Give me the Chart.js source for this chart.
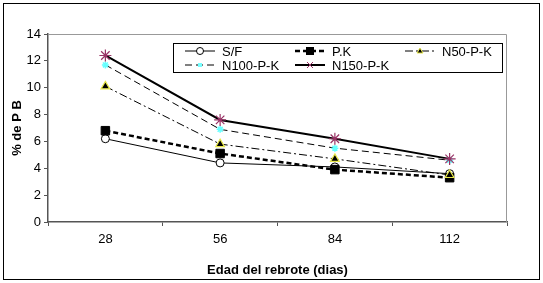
<!DOCTYPE html>
<html>
<head>
<meta charset="utf-8">
<script src="https://cdn.jsdelivr.net/npm/chart.js@4"></script>
<style>
  html, body { margin: 0; padding: 0; background: #fff; }
  #wrap { width: 543px; height: 283px; }
</style>
</head>
<body>
<div id="wrap"><canvas id="chart" width="543" height="283"></canvas></div>
<script>
// Data
const days = ['28', '56', '84', '112'];
const sf = [6.2, 4.4, 4.1, 3.6];
const pk = [6.8, 5.1, 3.9, 3.3];
const n50 = [10.1, 5.8, 4.7, 3.5];
const n100 = [11.7, 6.9, 5.5, 4.6];
const n150 = [12.4, 7.6, 6.2, 4.7];
const yTicks = [0, 2, 4, 6, 8, 10, 12, 14];

const font = 'Arial, "Liberation Sans", sans-serif';

// legend drawn inside the plot, like the original
const legendItems = [
    { label: 'S/F', col: 0, row: 0, dash: [], width: 1, marker: 'circle' },
    { label: 'P.K', col: 1, row: 0, dash: [5, 3], width: 2.5, marker: 'rect' },
    { label: 'N50-P-K', col: 2, row: 0, dash: [8, 3, 2, 3], width: 1, marker: 'triangle' },
    { label: 'N100-P-K', col: 0, row: 1, dash: [7, 4], width: 1, marker: 'cyan' },
    { label: 'N150-P-K', col: 1, row: 1, dash: [], width: 2, marker: 'star' }
];

const framePlugin = {
    id: 'frame',
    afterDraw(chart) {
        const ctx = chart.ctx;
        const a = chart.chartArea;
        ctx.save();
        // plot frame (top/right)
        ctx.strokeStyle = '#999';
        ctx.lineWidth = 1;
        ctx.beginPath();
        ctx.moveTo(a.left, a.top + 0.5);
        ctx.lineTo(a.right - 0.5, a.top + 0.5);
        ctx.lineTo(a.right - 0.5, a.bottom);
        ctx.stroke();
        // outer border
        ctx.strokeStyle = '#000';
        ctx.strokeRect(3.5, 3.5, 536, 276);

        // legend box
        const bx = 173, by = 43, bw = 329, bh = 29;
        ctx.fillStyle = '#fff';
        ctx.fillRect(bx, by, bw, bh);
        ctx.strokeStyle = '#000';
        ctx.strokeRect(bx + 0.5, by + 0.5, bw, bh);
        ctx.font = '13px ' + font;
        ctx.textBaseline = 'middle';
        legendItems.forEach(it => {
            const x0 = bx + 12 + it.col * 110;
            const y0 = by + 8 + it.row * 14;
            ctx.strokeStyle = '#000';
            ctx.lineWidth = it.width;
            ctx.setLineDash(it.dash);
            ctx.beginPath();
            ctx.moveTo(x0, y0);
            ctx.lineTo(x0 + 30, y0);
            ctx.stroke();
            ctx.setLineDash([]);
            const mx = x0 + 15;
            ctx.lineWidth = 1;
            if (it.marker === 'circle') {
                ctx.fillStyle = '#fff';
                ctx.beginPath(); ctx.arc(mx, y0, 3.5, 0, Math.PI * 2); ctx.fill(); ctx.stroke();
            } else if (it.marker === 'rect') {
                ctx.fillStyle = '#000';
                ctx.fillRect(mx - 4, y0 - 4, 8, 8);
            } else if (it.marker === 'triangle') {
                ctx.fillStyle = '#000';
                ctx.strokeStyle = '#e8e84a';
                ctx.beginPath(); ctx.moveTo(mx, y0 - 3); ctx.lineTo(mx + 3, y0 + 2); ctx.lineTo(mx - 3, y0 + 2); ctx.closePath();
                ctx.fill(); ctx.stroke();
            } else if (it.marker === 'cyan') {
                ctx.fillStyle = '#7ff';
                ctx.fillRect(mx - 2, y0 - 2, 4, 4);
            } else if (it.marker === 'star') {
                ctx.strokeStyle = '#936';
                ctx.beginPath();
                ctx.moveTo(mx - 3, y0 - 3); ctx.lineTo(mx + 3, y0 + 3);
                ctx.moveTo(mx + 3, y0 - 3); ctx.lineTo(mx - 3, y0 + 3);
                ctx.stroke();
            }
            ctx.fillStyle = '#000';
            ctx.fillText(it.label, x0 + 37, y0 + 1);
        });
        ctx.restore();
    }
};

new Chart(document.getElementById('chart'), {
    type: 'line',
    data: {
        labels: days,
        datasets: [
            {
                label: 'N150-P-K', data: n150,
                borderColor: '#000', borderWidth: 2,
                pointStyle: 'star', pointRadius: 6, pointBorderColor: '#936', pointBorderWidth: 1.2,
                pointBackgroundColor: '#936'
            },
            {
                label: 'N100-P-K', data: n100,
                borderColor: '#000', borderWidth: 1, borderDash: [7, 4],
                pointStyle: 'star', pointRadius: 3.5, pointBorderColor: '#6ff', pointBorderWidth: 1.5,
                pointBackgroundColor: '#6ff'
            },
            {
                label: 'N50-P-K', data: n50,
                borderColor: '#000', borderWidth: 1, borderDash: [8, 3, 2, 3],
                pointStyle: 'triangle', pointRadius: 5, pointBorderColor: '#e8e84a', pointBorderWidth: 1.2,
                pointBackgroundColor: '#000'
            },
            {
                label: 'P.K', data: pk,
                borderColor: '#000', borderWidth: 2.5, borderDash: [5, 3],
                pointStyle: 'rect', pointRadius: 6, pointBorderColor: '#000', pointBorderWidth: 1,
                pointBackgroundColor: '#000'
            },
            {
                label: 'S/F', data: sf,
                borderColor: '#000', borderWidth: 1,
                pointStyle: 'circle', pointRadius: 4, pointBorderColor: '#000', pointBorderWidth: 1,
                pointBackgroundColor: '#fff'
            }
        ]
    },
    options: {
        responsive: false,
        animation: false,
        layout: { padding: { top: 34, right: 36, left: 6, bottom: 5 } },
        plugins: { legend: { display: false }, tooltip: { enabled: false } },
        scales: {
            x: {
                offset: true,
                grid: { offset: true, drawOnChartArea: false, tickLength: 4, color: '#555' },
                border: { color: '#555', width: 1.5 },
                ticks: { color: '#000', font: { family: font, size: 13 }, padding: 6 },
                title: { display: true, text: 'Edad del rebrote (dias)', color: '#000',
                         font: { family: font, size: 13, weight: 'bold' }, padding: { top: 12, bottom: 0 } },
                afterFit: s => { s.height = 56; }
            },
            y: {
                min: 0, max: 14,
                afterBuildTicks: s => { s.ticks = yTicks.map(v => ({ value: v })); },
                grid: { drawOnChartArea: false, tickLength: 4, color: '#555' },
                border: { color: '#555', width: 1.5 },
                ticks: { color: '#000', font: { family: font, size: 13 }, padding: 3 },
                title: { display: true, text: '% de P B', color: '#000',
                         font: { family: font, size: 13, weight: 'bold' }, padding: { top: 4, bottom: 0 } },
                afterFit: s => { s.width = 42; }
            }
        }
    },
    plugins: [framePlugin]
});
</script>
</body>
</html>
